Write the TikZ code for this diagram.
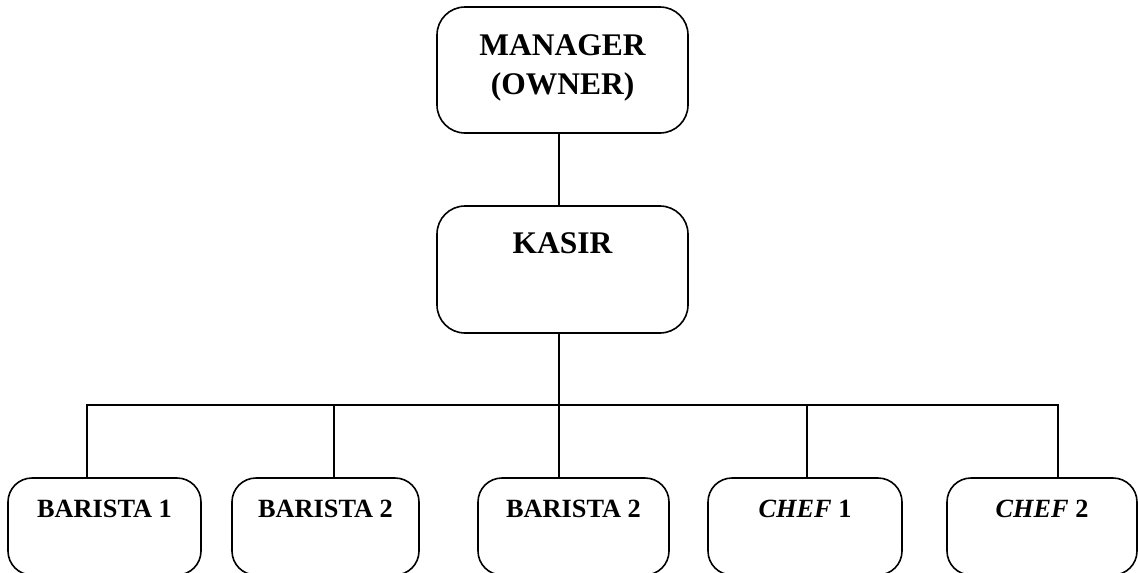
\documentclass[tikz,border=0pt]{standalone}
\usepackage{fontspec}
\setmainfont{Liberation Serif}
\begin{document}
\begin{tikzpicture}[x=1pt,y=-1pt,
  box/.style={draw,line width=1.6pt,rounded corners=28pt,inner sep=0pt},
  sbox/.style={draw,line width=1.6pt,rounded corners=24pt,inner sep=0pt},
  big/.style={font=\fontsize{31.5}{40}\selectfont\bfseries,inner sep=0pt,align=center},
  small/.style={font=\fontsize{26.3}{32}\selectfont\bfseries,inner sep=0pt},
  conn/.style={line width=1.5pt}]
\useasboundingbox (0,0) rectangle (1138,573);
% boxes
\node[box,minimum width=251pt,minimum height=126pt] (mgr) at (562.5,70) {};
\node[box,minimum width=251pt,minimum height=127pt] (kas) at (562.5,269.5) {};
\node[sbox,minimum width=193pt,minimum height=97pt] (b1) at (104.5,526.5) {};
\node[sbox,minimum width=187pt,minimum height=97pt] (b2) at (325.5,526.5) {};
\node[sbox,minimum width=191pt,minimum height=97pt] (b3) at (573.5,526.5) {};
\node[sbox,minimum width=194pt,minimum height=97pt] (c1) at (805,526.5) {};
\node[sbox,minimum width=190pt,minimum height=97pt] (c2) at (1042,526.5) {};
% texts
\node[big] (mgrt1) at (562.5,45) {MANAGER};
\node[big] (mgrt2) at (562.5,87) {(OWNER)};
\node[big] (kast) at (562.5,243) {KASIR};
\node[small] (b1t) at (104.5,509) {BARISTA 1};
\node[small] (b2t) at (325.5,509) {BARISTA 2};
\node[small] (b3t) at (573.5,509) {BARISTA 2};
\node[small] (c1t) at (805,509) {\textit{CHEF} 1};
\node[small] (c2t) at (1042,509) {\textit{CHEF} 2};
% connectors
\coordinate (top) at (559,0);
\coordinate (j1) at (87,405);
\coordinate (j2) at (334,405);
\coordinate (j3) at (559,405);
\coordinate (j4) at (807,405);
\coordinate (j5) at (1058,405);
\draw[conn] (top |- mgr.south) -- (top |- kas.north);
\draw[conn] (top |- kas.south) -- (j3);
\draw[conn] (j1 |- b1.north) -- (j1) -- (j5) -- (j5 |- c2.north);
\draw[conn] (j2) -- (j2 |- b2.north);
\draw[conn] (j3) -- (j3 |- b3.north);
\draw[conn] (j4) -- (j4 |- c1.north);
\end{tikzpicture}
\end{document}
